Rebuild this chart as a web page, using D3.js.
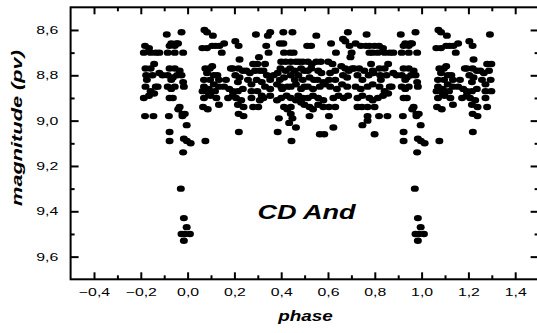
<!DOCTYPE html>
<html>
<head>
<meta charset="utf-8">
<script src="https://cdn.jsdelivr.net/npm/d3@7"></script>
<style>
  body { margin: 0; background: #fff; }
  svg { display: block; }
</style>
</head>
<body>
<svg id="chart" width="537" height="333"></svg>
<script>
const obsA = [
  [0.072, 8.60], [0.083, 8.61], [0.063, 8.68], [0.083, 8.68], [0.105, 8.67], [0.120, 8.67],
  [0.108, 8.625], [0.156, 8.66], [0.136, 8.67], [0.146, 8.70], [0.076, 8.77], [0.095, 8.77],
  [0.083, 8.79], [0.112, 8.80], [0.070, 8.82], [0.096, 8.82], [0.070, 8.85], [0.091, 8.86],
  [0.112, 8.84], [0.134, 8.85], [0.064, 8.87], [0.091, 8.88], [0.117, 8.87], [0.070, 8.90],
  [0.098, 8.89], [0.123, 8.90], [0.066, 8.94], [0.086, 8.95], [0.076, 9.09], [0.134, 8.93],
  [0.134, 8.82], [0.105, 8.76], [0.127, 8.80], [0.164, 8.82], [0.156, 8.85], [0.178, 8.86],
  [0.185, 8.77], [0.173, 8.90], [0.193, 8.89]
];
const obsB = [
  [0.204, 8.65], [0.218, 8.67], [0.193, 8.77], [0.218, 8.77], [0.236, 8.78], [0.204, 8.80],
  [0.222, 8.81], [0.215, 8.83], [0.193, 8.87], [0.215, 8.87], [0.236, 8.86], [0.207, 8.90],
  [0.229, 8.91], [0.215, 8.93], [0.239, 8.94], [0.218, 8.97], [0.239, 8.98], [0.219, 9.05],
  [0.251, 8.78], [0.266, 8.79], [0.258, 8.82], [0.273, 8.84], [0.273, 8.87], [0.273, 8.90],
  [0.280, 8.94], [0.302, 8.94], [0.280, 8.75], [0.298, 8.75], [0.292, 8.62], [0.305, 8.72],
  [0.288, 8.78], [0.309, 8.78], [0.295, 8.82], [0.317, 8.83], [0.298, 8.87], [0.317, 8.89],
  [0.309, 8.91], [0.222, 8.73]
];
const obsC = [
  [0.324, 8.78], [0.336, 8.67], [0.346, 8.70], [0.343, 8.625], [0.353, 8.61], [0.331, 8.75],
  [0.339, 8.80], [0.353, 8.82], [0.331, 8.85], [0.353, 8.86], [0.324, 8.90], [0.353, 8.89],
  [0.368, 8.80], [0.385, 8.79], [0.382, 8.84], [0.400, 8.85], [0.382, 8.91], [0.390, 8.99],
  [0.385, 9.05], [0.394, 8.66], [0.409, 8.66], [0.409, 8.61], [0.412, 8.70], [0.400, 8.74],
  [0.419, 8.74], [0.397, 8.77], [0.419, 8.78], [0.394, 8.82], [0.412, 8.81], [0.404, 8.86],
  [0.426, 8.85], [0.400, 8.90], [0.423, 8.89], [0.412, 8.94], [0.426, 8.95]
];
const obsD = [
  [0.448, 8.61], [0.438, 8.70], [0.453, 8.70], [0.441, 8.74], [0.463, 8.74], [0.438, 8.77],
  [0.458, 8.78], [0.441, 8.80], [0.458, 8.82], [0.441, 8.85], [0.463, 8.84], [0.441, 8.90],
  [0.463, 8.91], [0.441, 8.94], [0.441, 8.97], [0.448, 8.99], [0.434, 9.01], [0.463, 9.03],
  [0.444, 9.09], [0.477, 8.74], [0.492, 8.74], [0.485, 8.77], [0.499, 8.78], [0.473, 8.80],
  [0.492, 8.82], [0.485, 8.86], [0.499, 8.85], [0.473, 8.89], [0.492, 8.90], [0.485, 8.92],
  [0.499, 8.93]
];
const obsE = [
  [0.511, 8.67], [0.528, 8.67], [0.514, 8.74], [0.531, 8.75], [0.514, 8.78], [0.528, 8.77],
  [0.521, 8.81], [0.540, 8.82], [0.514, 8.85], [0.536, 8.86], [0.514, 8.90], [0.536, 8.89],
  [0.521, 8.94], [0.536, 8.95], [0.521, 8.98], [0.550, 8.625], [0.550, 8.74], [0.569, 8.74],
  [0.558, 8.78], [0.572, 8.79], [0.555, 8.82], [0.580, 8.83], [0.565, 8.85], [0.587, 8.84],
  [0.558, 8.90], [0.580, 8.91], [0.558, 8.93], [0.580, 8.94], [0.565, 9.06], [0.584, 9.06]
];
const obsF = [
  [0.613, 8.66], [0.634, 8.70], [0.601, 8.74], [0.619, 8.75], [0.609, 8.79], [0.631, 8.78],
  [0.604, 8.82], [0.631, 8.82], [0.609, 8.85], [0.638, 8.86], [0.623, 8.90], [0.645, 8.89],
  [0.604, 8.94], [0.631, 8.94], [0.604, 8.98], [0.623, 9.03], [0.664, 8.64], [0.674, 8.65],
  [0.685, 8.61], [0.657, 8.76], [0.674, 8.77], [0.664, 8.80], [0.682, 8.81], [0.660, 8.84],
  [0.682, 8.85], [0.667, 8.90], [0.686, 8.89], [0.692, 8.67], [0.701, 8.70], [0.696, 8.72],
  [0.689, 8.78], [0.704, 8.77]
];
const obsG = [
  [0.718, 8.66], [0.740, 8.67], [0.762, 8.67], [0.765, 8.62], [0.711, 8.77], [0.733, 8.77],
  [0.755, 8.78], [0.726, 8.80], [0.747, 8.82], [0.718, 8.85], [0.740, 8.86], [0.726, 8.90],
  [0.747, 8.89], [0.726, 8.94], [0.745, 8.94], [0.747, 9.02], [0.769, 8.98], [0.769, 9.00],
  [0.777, 8.67], [0.799, 8.67], [0.777, 8.70], [0.791, 8.70], [0.784, 8.75], [0.791, 8.78],
  [0.774, 8.80], [0.794, 8.79], [0.769, 8.85], [0.791, 8.84], [0.777, 8.90], [0.791, 8.91],
  [0.769, 8.94], [0.799, 8.94], [0.799, 9.06]
];
const obsH = [
  [0.818, 8.67], [0.835, 8.68], [0.813, 8.70], [0.842, 8.70], [0.864, 8.70], [0.820, 8.77],
  [0.842, 8.77], [0.823, 8.80], [0.850, 8.80], [0.857, 8.75], [0.820, 8.85], [0.842, 8.87],
  [0.813, 8.90], [0.835, 8.89], [0.857, 8.88], [0.818, 8.98], [0.854, 8.98], [0.879, 8.70],
  [0.879, 8.79], [0.893, 8.80], [0.872, 8.85], [0.826, 8.82], [0.864, 8.85]
];
const obsI = [
  [0.911, 8.62], [0.923, 8.67], [0.945, 8.67], [0.959, 8.66], [0.930, 8.66], [0.952, 8.66],
  [0.915, 8.70], [0.945, 8.70], [0.981, 8.70], [0.974, 8.61], [0.923, 8.77], [0.945, 8.77],
  [0.966, 8.78], [0.915, 8.80], [0.937, 8.81], [0.974, 8.80], [0.955, 8.80], [0.930, 8.82],
  [0.915, 8.85], [0.945, 8.85], [0.981, 8.83], [0.930, 8.86], [0.923, 8.90], [0.937, 8.90],
  [0.920, 8.98], [0.923, 9.05], [0.923, 9.09], [0.966, 8.94], [0.960, 8.95], [0.984, 8.85],
  [0.978, 8.97], [0.988, 8.97], [0.978, 8.98], [0.996, 9.02], [0.984, 9.08], [0.997, 9.09],
  [0.013, 9.10], [0.981, 9.14]
];
const eclipse = [
  [0.971, 9.30], [0.984, 9.43], [0.996, 9.47], [0.974, 9.50], [0.988, 9.50], [0.010, 9.50],
  [0.984, 9.53]
];

const xMajor = [-0.4, -0.2, 0.0, 0.2, 0.4, 0.6, 0.8, 1.0, 1.2, 1.4];
const xMinor = [-0.3, -0.1, 0.1, 0.3, 0.5, 0.7, 0.9, 1.1, 1.3];
const yMajor = [8.6, 8.8, 9.0, 9.2, 9.4, 9.6];
const yMinor = [8.7, 8.9, 9.1, 9.3, 9.5];

const conf = {
  left: 70.6,
  right: 538.6,
  top: 7.3,
  bottom: 279.3,
  stretch: 1.44
};

const svg = d3.select('#chart');

const x = d3.scaleLinear().domain([-0.5, 1.5]).range([conf.left, conf.right]);
const y = d3.scaleLinear().domain([8.5, 9.7]).range([conf.top, conf.bottom]);

const fmt = d => d3.format('.1f')(d).replace('.', ',');

// phase diagram: show the cycle from -0.2 to 1.3
const points = [];
[obsA, obsB, obsC, obsD, obsE, obsF, obsG, obsH, obsI, eclipse].forEach(set => {
  set.forEach(([p, m]) => {
    points.push([p, m]);
    if (p >= 0.8) points.push([p - 1, m]);
    if (p < 0.3) points.push([p + 1, m]);
  });
});

svg.append('g')
  .selectAll('ellipse')
  .data(points)
  .join('ellipse')
  .attr('cx', d => x(d[0]))
  .attr('cy', d => y(d[1]))
  .attr('rx', 4)
  .attr('ry', 3.2)
  .attr('fill', '#000');

const styleAxis = g => {
  g.select('.domain').remove();
  g.selectAll('line').attr('stroke', '#000').attr('stroke-width', 2);
};

// bottom
svg.append('g')
  .attr('transform', `translate(0,${conf.bottom})`)
  .call(d3.axisBottom(x).tickValues(xMajor).tickSize(-7).tickPadding(9).tickFormat(fmt))
  .call(styleAxis)
  .call(g => g.selectAll('text')
    .attr('font-family', 'Liberation Sans, Arial, sans-serif')
    .attr('font-size', 11)
    .attr('fill', '#000')
    .attr('transform', `scale(${conf.stretch},1)`));
svg.append('g')
  .attr('transform', `translate(0,${conf.bottom})`)
  .call(d3.axisBottom(x).tickValues(xMinor).tickSize(-4).tickFormat(''))
  .call(styleAxis);

// top
svg.append('g')
  .attr('transform', `translate(0,${conf.top})`)
  .call(d3.axisTop(x).tickValues(xMajor).tickSize(-7).tickFormat(''))
  .call(styleAxis);
svg.append('g')
  .attr('transform', `translate(0,${conf.top})`)
  .call(d3.axisTop(x).tickValues(xMinor).tickSize(-4).tickFormat(''))
  .call(styleAxis);

// left
svg.append('g')
  .attr('transform', `translate(${conf.left},0)`)
  .call(d3.axisLeft(y).tickValues(yMajor).tickSize(-8).tickFormat(fmt))
  .call(styleAxis)
  .call(g => g.selectAll('text')
    .attr('x', -12.4 / conf.stretch)
    .attr('font-family', 'Liberation Sans, Arial, sans-serif')
    .attr('font-size', 11)
    .attr('fill', '#000')
    .attr('transform', `scale(${conf.stretch},1)`));
svg.append('g')
  .attr('transform', `translate(${conf.left},0)`)
  .call(d3.axisLeft(y).tickValues(yMinor).tickSize(-4).tickFormat(''))
  .call(styleAxis);

// right
svg.append('g')
  .attr('transform', `translate(${conf.right},0)`)
  .call(d3.axisRight(y).tickValues(yMajor).tickSize(-8).tickFormat(''))
  .call(styleAxis);
svg.append('g')
  .attr('transform', `translate(${conf.right},0)`)
  .call(d3.axisRight(y).tickValues(yMinor).tickSize(-4).tickFormat(''))
  .call(styleAxis);

// frame
svg.append('rect')
  .attr('x', conf.left)
  .attr('y', conf.top)
  .attr('width', conf.right - conf.left)
  .attr('height', conf.bottom - conf.top)
  .attr('fill', 'none')
  .attr('stroke', '#000')
  .attr('stroke-width', 2);

const label = (txt, tx, ty, size, sx, rotate) =>
  svg.append('text')
    .attr('transform', `translate(${tx},${ty}) rotate(${rotate || 0}) scale(${sx},1)`)
    .attr('text-anchor', 'middle')
    .attr('font-family', 'Liberation Sans, Arial, sans-serif')
    .attr('font-weight', 'bold')
    .attr('font-style', 'italic')
    .attr('font-size', size)
    .attr('fill', '#000')
    .text(txt);

label('phase', 305.5, 321, 14, 1.35);
label('magnitude (pv)', 22, 128, 15, 1.45, -90);
label('CD And', 306.5, 218.5, 21, 1.29);
</script>
</body>
</html>
